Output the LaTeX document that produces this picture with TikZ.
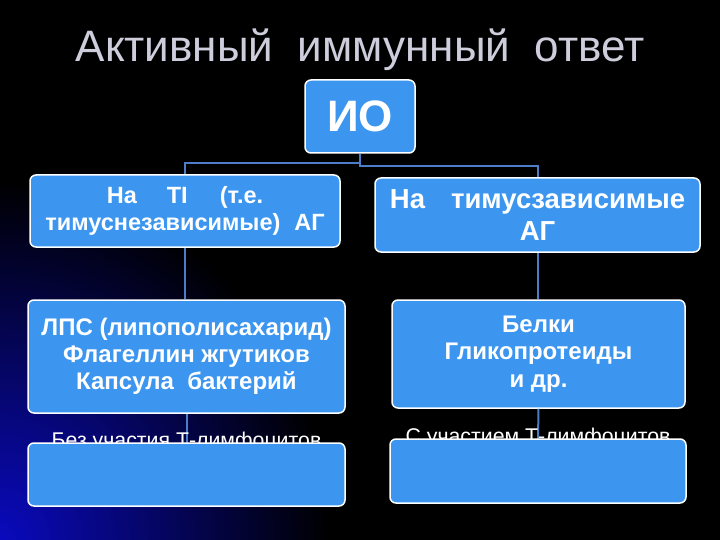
\documentclass[tikz,border=0pt]{standalone}
\usepackage{fontspec}
\setmainfont{Liberation Sans}
\definecolor{boxblue}{RGB}{60,150,240}
\definecolor{connblue}{RGB}{75,125,200}
\definecolor{titlegray}{RGB}{205,205,220}
\definecolor{bgblue}{RGB}{10,10,190}
\begin{document}
\begin{tikzpicture}[x=1pt,y=-1pt,
  box/.style={draw=white, line width=1.5pt, fill=boxblue, rounded corners=6pt,
    text=white, align=center, inner sep=0pt},
  conn/.style={draw=connblue, line width=2pt},
  lbl/.style={text=white, anchor=base, inner sep=0pt, font=\fontsize{21.3}{24}\selectfont}]
\useasboundingbox (0,0) rectangle (720,540);
\fill[black] (0,0) rectangle (720,540);
\begin{scope}
  \clip (0,0) rectangle (720,540);
  \shade[inner color=bgblue, outer color=black] (0,540) ellipse (330pt and 360pt);
\end{scope}
% title
\node[anchor=base, text=titlegray, inner sep=0pt, font=\fontsize{44}{50}\selectfont] (title) at (360,62)
  {Активный \ иммунный \ ответ};
% nodes
\node[box, minimum width=110pt, minimum height=73pt, font=\bfseries\fontsize{44}{50}\selectfont] (io) at (360,116.5) {ИО};
\node[box, minimum width=310pt, minimum height=72pt, font=\bfseries\fontsize{23.5}{27}\selectfont] (l1) at (185,211)
  {На\hspace{30pt}TI\hspace{32pt}(т.е.\\тимуснезависимые)\hspace{14pt}АГ};
\node[box, minimum width=325pt, minimum height=74pt, font=\bfseries\fontsize{27.5}{32}\selectfont] (r1) at (537.5,215)
  {На\hspace{26pt}тимусзависимые\\АГ};
\node[box, minimum width=317pt, minimum height=113pt, font=\bfseries\fontsize{24}{27}\selectfont] (l2) at (186.5,356.5)
  {ЛПС (липополисахарид)\\Флагеллин жгутиков\\Капсула \ бактерий};
\node[box, minimum width=293pt, minimum height=108pt, font=\bfseries\fontsize{24}{27.5}\selectfont] (r2) at (538.5,354)
  {Белки\\Гликопротеиды\\и др.};
% connectors
\draw[conn] (io.south) -- (360,163) -| (l1.north);
\draw[conn] (io.south) -- (360,166) -| (r1.north);
\draw[conn] (l1.south) -- (l1.south |- l2.north);
\draw[conn] (r1.south) -- (r1.south |- r2.north);
\coordinate (l3top) at (186.5,443);
\coordinate (r3top) at (538,439);
\draw[conn] (l2.south) -- (l3top);
\draw[conn] (r2.south) -- (r3top);
% labels
\node[lbl] (lt) at (186.5,447) {Без участия Т-лимфоцитов};
\node[lbl] (rt) at (538,443) {С участием Т-лимфоцитов};
% bottom boxes
\node[box, minimum width=317pt, minimum height=63pt] (l3) at (186.5,474.5) {};
\node[box, minimum width=296pt, minimum height=64pt] (r3) at (538,471) {};
\end{tikzpicture}
\end{document}
